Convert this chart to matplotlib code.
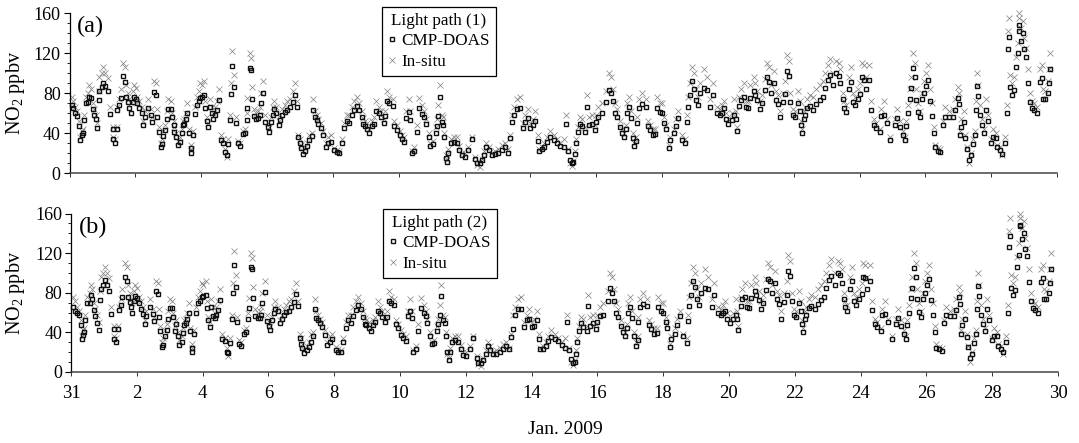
import matplotlib
matplotlib.use("Agg")
import matplotlib.pyplot as plt
from matplotlib.ticker import MultipleLocator

plt.rcParams['font.family'] = ['Liberation Serif', 'DejaVu Serif']
plt.rcParams['mathtext.fontset'] = 'custom'
plt.rcParams['mathtext.rm'] = 'Liberation Serif'

days = [
 .07,.12,.17,.23,.29,.32,.37,.40,.44,.50,
 .57,.60,.64,.70,.74,.80,.84,.89,.91,.98,
 1.03,1.08,1.16,1.23,1.31,1.43,1.32,1.38,1.45,1.51,
 1.56,1.63,1.69,1.72,1.79,1.82,1.86,1.92,1.96,2.01,
 2.06,2.12,2.19,2.24,2.29,2.39,2.48,2.51,2.58,2.63,
 2.67,2.71,2.77,2.81,2.85,2.91,2.95,3.0,3.07,3.11,
 3.18,3.16,3.24,3.29,3.36,3.41,3.44,3.49,3.54,3.58,
 3.63,3.68,3.68,3.74,3.81,3.86,3.92,3.97,4.02,4.09,
 4.13,4.17,4.21,4.27,4.32,4.37,4.42,4.47,4.54,4.60,
 4.67,4.73,4.78,4.83,4.88,4.91,4.95,5.0,5.06,5.11,
 5.18,5.26,5.33,5.38,5.40,5.47,5.50,5.54,5.59,5.67,
 5.73,5.79,5.82,5.89,5.95,6.02,6.06,6.11,6.17,6.20,
 6.28,6.35,6.40,6.47,6.55,6.62,6.70,6.78,6.85,6.90,
 6.95,6.99,7.03,7.09,7.16,7.23,7.29,7.36,7.41,7.46,
 7.51,7.56,7.63,7.71,7.79,7.86,7.93,8.04,8.12,8.20,
 8.27,8.35,8.42,8.50,8.58,8.65,8.73,8.80,8.88,8.93,
 8.98,9.05,9.11,9.18,9.25,9.32,9.39,9.46,9.54,9.59,
 9.66,9.72,9.82,9.87,9.94,10.03,10.10,10.17,10.23,10.30,
 10.35,10.40,10.48,10.55,10.63,10.72,10.78,10.83,10.91,10.96,
 11.04,11.12,11.16,11.21,11.26,11.31,11.36,11.39,11.44,11.48,
 11.51,11.59,11.67,11.77,11.84,11.92,12.02,12.12,12.22,12.33,
 12.38,12.46,12.53,12.60,12.66,12.73,12.83,12.93,13.03,13.14,
 13.22,13.32,13.37,13.44,13.51,13.59,13.69,13.77,13.85,13.93,
 14.0,14.08,14.15,14.22,14.25,14.35,14.43,14.5,14.6,14.71,
 14.81,14.91,15.01,15.09,15.13,15.19,15.26,15.31,15.36,15.39,
 15.44,15.5,15.57,15.67,15.72,15.77,15.87,15.95,16.0,16.07,
 16.18,16.31,16.38,16.45,16.51,16.58,16.63,16.71,16.78,16.85,
 16.91,16.94,16.99,17.06,17.12,17.16,17.22,17.24,17.29,17.39,
 17.52,17.56,17.64,17.73,17.8,17.85,17.93,18.0,18.07,18.13,
 18.2,18.25,18.35,18.43,18.5,18.61,18.71,18.76,18.79,18.86,
 18.91,18.96,19.04,19.08,19.16,19.27,19.37,19.47,19.55,19.67,
 19.75,19.82,19.89,19.95,20.02,20.12,20.2,20.24,20.28,20.35,
 20.4,20.48,20.56,20.62,20.68,20.78,20.83,20.9,20.97,21.04,
 21.12,21.19,21.24,21.31,21.41,21.47,21.51,21.59,21.67,21.75,
 21.8,21.85,21.9,21.98,22.05,22.12,22.18,22.22,22.25,22.3,
 22.35,22.42,22.5,22.6,22.69,22.79,22.89,22.96,23.03,23.11,
 23.21,23.3,23.37,23.42,23.49,23.54,23.6,23.67,23.74,23.8,
 23.87,23.94,24.03,24.08,24.13,24.2,24.28,24.36,24.43,24.51,
 24.61,24.66,24.73,24.83,24.94,25.09,25.14,25.24,25.32,25.37,
 25.42,25.47,25.52,25.57,25.63,25.68,25.72,25.77,25.83,25.9,
 25.97,26.02,26.07,26.15,26.2,26.25,26.3,26.37,26.46,26.54,
 26.61,26.71,26.84,26.91,26.98,27.01,27.04,27.09,27.17,27.22,
 27.27,27.32,27.39,27.45,27.5,27.55,27.57,27.6,27.67,27.72,
 27.77,27.85,27.9,27.99,28.05,28.14,28.18,28.26,28.33,28.41,
 28.48,28.52,28.55,28.58,28.63,28.69,28.74,28.82,28.84,28.86,
 28.91,28.97,29.01,29.05,29.12,29.17,29.24,29.31,29.39,29.48,
 29.53,29.58,29.64,29.72,29.75,29.8,
]
cmp_path1 = [
 68,65,60,57,47,33,38,40,53,70,
 71,76,75,64,58,54,45,73,82,86,
 90,87,82,59,44,44,34,30,63,68,
 75,97,91,76,71,65,60,71,76,74,
 70,65,60,48,56,65,58,51,81,78,
 56,41,26,29,37,43,54,64,64,56,
 48,41,36,28,31,40,48,49,54,60,
 40,25,20,38,59,68,72,75,76,78,
 65,52,46,66,60,54,58,63,73,33,
 30,21,18,29,53,79,107,86,50,30,
 27,39,40,53,65,105,103,74,57,54,
 55,58,70,80,51,46,41,51,58,64,
 60,48,53,58,61,63,66,71,78,66,
 36,30,25,19,22,27,33,37,63,56,
 53,49,45,38,26,30,31,23,21,20,
 30,45,52,50,58,63,67,63,56,49,
 47,44,40,47,49,62,60,56,50,57,
 72,70,67,47,43,38,34,31,55,61,
 53,20,22,41,65,59,56,49,36,27,
 29,40,47,57,76,51,48,36,15,11,
 20,30,31,30,23,18,16,23,34,14,
 10,10,13,18,26,23,18,19,20,23,
 26,20,35,51,58,64,65,45,51,55,
 45,48,52,32,22,24,26,31,36,33,
 30,27,26,49,22,13,10,11,19,30,
 41,49,47,41,66,48,49,43,51,56,
 60,71,83,80,72,60,56,46,40,36,
 44,60,66,55,35,27,32,50,65,69,
 66,47,43,38,39,65,61,60,50,44,
 25,33,40,47,55,33,30,51,66,78,
 92,84,73,68,80,85,83,66,78,60,
 58,60,65,54,49,53,58,54,42,67,
 73,76,66,65,75,82,78,73,64,70,
 83,96,91,80,90,73,69,56,71,79,
 102,97,71,58,56,70,62,48,40,54,
 58,65,67,63,69,73,76,85,93,98,
 88,100,97,90,74,65,61,84,91,71,
 68,74,79,96,93,84,93,63,48,45,
 41,57,58,50,33,48,55,46,38,33,
 47,60,74,85,105,96,73,61,56,74,
 80,87,93,72,57,40,26,22,21,48,
 56,56,56,63,75,69,38,46,51,35,
 24,13,18,29,38,63,87,77,58,48,
 40,63,52,30,36,35,26,23,19,30,
 60,124,136,86,78,83,106,120,142,148,
 132,140,124,116,90,71,65,63,60,91,
 95,74,74,80,90,104,
]
cmp_path2 = [
 66,62,60,58,47,33,37,40,52,70,
 70,78,74,63,57,49,42,73,84,88,
 93,88,82,59,43,43,33,30,63,68,
 76,96,92,76,71,66,60,72,77,75,
 70,64,59,48,57,66,59,51,82,79,
 56,41,25,27,36,42,54,65,65,56,
 48,41,36,27,30,39,47,49,54,60,
 41,24,20,38,60,70,72,76,77,78,
 65,52,45,66,57,55,58,63,73,33,
 31,20,19,29,53,80,108,86,50,28,
 26,38,40,53,65,106,104,75,57,55,
 55,58,70,81,51,46,42,52,60,64,
 62,49,53,58,61,62,66,71,79,67,
 34,28,24,19,22,25,30,36,64,55,
 52,49,45,37,27,30,33,22,20,20,
 30,44,52,49,57,63,68,64,56,48,
 47,44,41,47,50,62,60,56,50,56,
 72,70,68,48,44,37,34,31,57,62,
 55,20,23,41,65,60,57,49,36,28,
 29,41,48,58,77,52,49,36,20,12,
 20,30,32,30,23,17,16,23,34,14,
 9,9,12,18,26,22,18,18,20,23,
 26,23,35,43,58,64,64,45,52,54,
 45,46,52,33,23,23,26,31,35,33,
 31,27,24,50,22,13,9,10,18,30,
 41,49,45,41,67,46,49,43,50,57,
 58,72,85,80,72,60,56,46,40,36,
 44,60,66,55,36,26,32,50,66,69,
 67,47,43,38,39,66,62,60,50,44,
 25,33,38,47,57,36,29,51,67,78,
 92,86,74,68,80,85,84,66,78,60,
 58,60,62,54,49,54,58,54,42,67,
 74,76,66,65,75,82,78,73,64,70,
 83,94,92,80,90,74,69,54,71,78,
 102,97,72,58,56,70,62,48,40,54,
 58,65,67,64,69,73,76,85,93,97,
 88,100,98,90,74,66,62,84,92,72,
 68,74,79,96,95,84,92,63,48,45,
 41,58,59,50,33,48,55,46,38,33,
 47,60,75,85,105,96,74,61,56,74,
 80,88,94,73,58,40,24,23,21,49,
 58,57,57,63,76,69,38,47,53,35,
 25,14,18,29,38,64,87,77,58,48,
 41,64,52,32,36,36,26,23,20,30,
 60,126,137,85,78,83,106,118,148,147,
 134,140,124,117,91,72,65,63,60,91,
 95,74,74,80,90,104,
]
in_situ = [
 76,72,66,62,52,36,42,44,58,76,
 80,88,84,70,64,58,50,82,96,100,
 106,100,95,66,46,46,36,34,66,74,
 84,110,106,88,80,74,70,82,88,85,
 76,72,66,52,62,74,64,56,92,90,
 64,46,30,34,42,48,62,74,72,60,
 52,46,40,32,36,44,52,54,60,70,
 44,28,24,42,66,76,82,90,88,92,
 72,56,50,74,66,60,66,72,84,38,
 34,24,16,34,58,90,122,98,56,32,
 30,42,44,60,75,120,115,86,64,60,
 62,66,80,92,58,50,46,56,66,72,
 66,52,58,64,68,72,74,82,90,72,
 38,34,28,22,26,30,38,40,74,62,
 58,54,50,42,30,36,38,25,23,22,
 34,50,58,58,66,72,76,70,62,55,
 52,50,44,52,56,72,66,62,54,62,
 82,76,74,52,48,42,38,36,62,74,
 62,22,26,48,75,68,62,54,40,30,
 32,46,54,68,88,58,56,40,18,14,
 24,34,36,36,27,20,20,26,36,16,
 8,6,14,22,30,26,20,22,24,28,
 30,24,38,58,66,74,76,50,58,64,
 50,54,62,38,24,26,30,36,42,38,
 34,30,34,58,24,10,7,12,22,34,
 46,56,54,46,78,56,58,48,58,66,
 70,82,100,96,84,70,64,52,44,40,
 48,70,76,62,40,30,36,56,74,80,
 74,52,48,44,44,76,70,70,56,48,
 28,36,44,54,62,38,34,58,76,90,
 106,100,84,76,90,104,96,74,90,66,
 64,68,72,60,54,60,74,62,46,76,
 84,90,72,72,88,96,90,82,72,78,
 94,110,106,88,102,82,78,62,80,92,
 118,112,80,64,62,82,72,52,44,62,
 66,74,78,76,84,88,92,100,108,114,
 100,112,110,104,80,72,68,96,106,80,
 76,84,90,110,108,96,108,72,54,50,
 44,64,72,54,36,54,64,52,42,36,
 52,68,84,96,120,110,84,70,62,80,
 92,100,108,84,70,46,28,25,24,52,
 66,62,64,74,86,80,42,54,62,38,
 26,10,20,34,42,72,100,88,68,54,
 44,74,58,34,44,40,28,26,18,36,
 68,142,155,98,90,96,116,130,155,160,
 145,152,135,125,104,80,72,70,66,104,
 108,84,82,92,104,120,
]
assert len(days) == len(cmp_path1) == len(cmp_path2) == len(in_situ), (len(days), len(cmp_path1), len(cmp_path2), len(in_situ))

x_ticks = list(range(0, 31, 2))
x_labels = ['31', '2', '4', '6', '8', '10', '12', '14', '16', '18', '20', '22', '24', '26', '28', '30']
y_ticks = [0, 40, 80, 120, 160]

W, H = 1079, 443
fig = plt.figure(figsize=(W / 100, H / 100), dpi=100)

def make_axes(x0, x1, ytop, ybot):
    return fig.add_axes([x0 / W, 1 - ybot / H, (x1 - x0) / W, (ybot - ytop) / H])

ax_a = make_axes(69.5, 1057, 13, 173)
ax_b = make_axes(71, 1058, 213.5, 372)

panels = [
    (ax_a, cmp_path1, '(a)', 'Light path (1)', (382, 7), 93),
    (ax_b, cmp_path2, '(b)', 'Light path (2)', (383, 209), 293),
]
for ax, cmp_vals, tag, title, corner, label_y in panels:
    ax.plot(days, in_situ, ls='none', marker='x', ms=5, mew=0.5, color='#808080', label='In-situ', clip_on=False)
    ax.plot(days, cmp_vals, ls='none', marker='s', ms=3.4, mew=1.0, mfc='none', mec='#111111', label='CMP-DOAS', clip_on=False)
    ax.set_xlim(0, 30)
    ax.set_ylim(0, 160)
    ax.set_xticks(x_ticks)
    ax.set_yticks(y_ticks)
    ax.yaxis.set_minor_locator(MultipleLocator(10))
    ax.tick_params(axis='y', which='major', length=4.3, width=0.8, labelsize=13, pad=2)
    ax.tick_params(axis='y', which='minor', length=2, width=0.6)
    ax.tick_params(axis='x', which='major', length=3, width=0.7, color='#333333')
    ax.spines[['top', 'right']].set_visible(False)
    ax.spines['left'].set_linewidth(0.9)
    ax.spines['bottom'].set_linewidth(1.1)
    ax.spines['bottom'].set_color('#444444')
    ax.set_ylabel(r'NO$_2$ ppbv', fontsize=14.5)
    ax.yaxis.set_label_coords(27 / W, 1 - label_y / H, transform=fig.transFigure)
    ax.text(0.0078, 0.915, tag, transform=ax.transAxes, fontsize=17.5, ha='left', va='center')
    h, l = ax.get_legend_handles_labels()
    leg = ax.legend(h[::-1], l[::-1], title=title, title_fontsize=12.3, fontsize=12.3,
                    loc='upper left', bbox_to_anchor=(corner[0] / W, 1 - corner[1] / H),
                    bbox_transform=fig.transFigure, borderaxespad=0, frameon=True,
                    fancybox=False, edgecolor='black', framealpha=1, alignment='center',
                    handlelength=0.5, handletextpad=0.3, labelspacing=0.25,
                    borderpad=0.35, markerscale=0.85)
    leg.get_frame().set_linewidth(0.9)

ax_a.set_xticklabels([])
ax_b.set_xticklabels(x_labels, fontsize=13.5)
ax_b.tick_params(axis='x', pad=6)
fig.text(565 / W, 1 - 430 / H, 'Jan. 2009', ha='center', va='center', fontsize=14)

fig.savefig('out.png', dpi=100)
